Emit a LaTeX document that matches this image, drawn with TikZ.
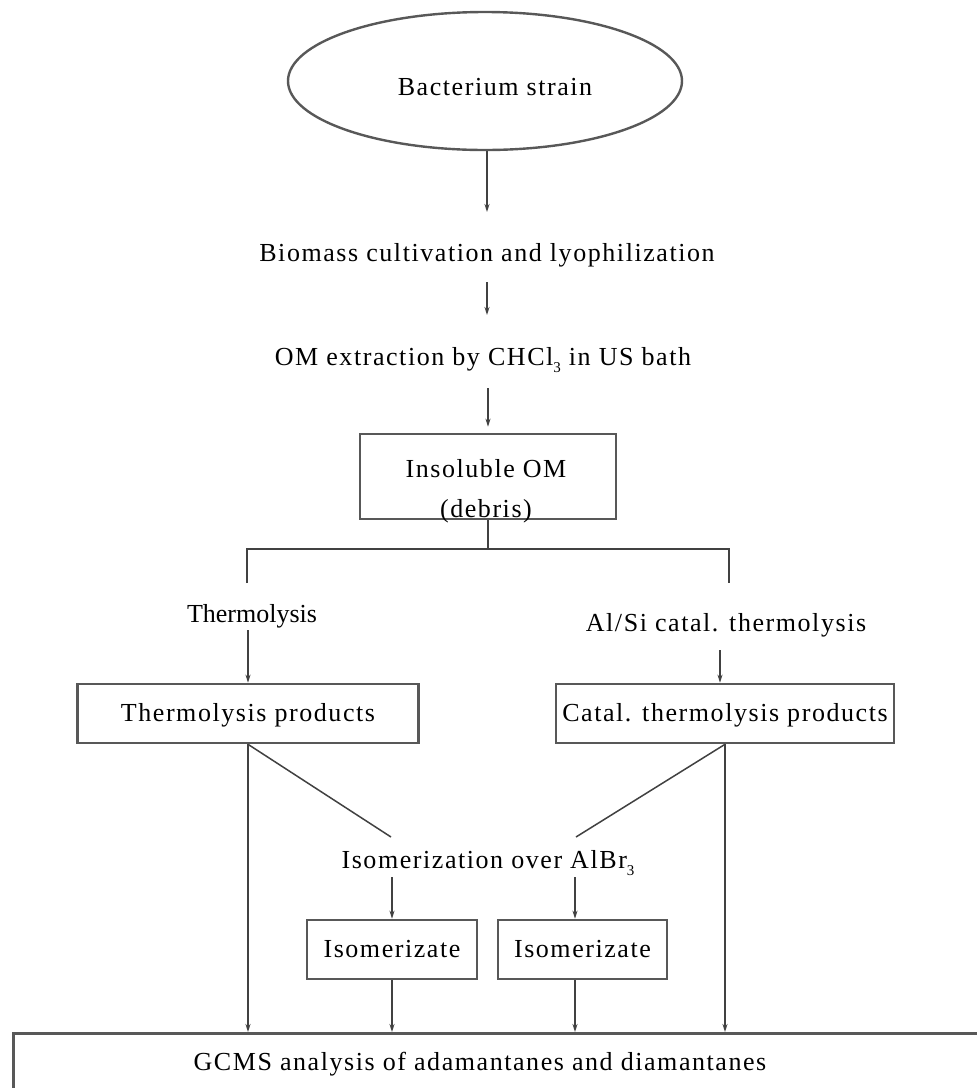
\documentclass[tikz,border=0pt]{standalone}
\usepackage{fontspec}
\setmainfont{Liberation Serif}
\newfontfamily\lsfont[LetterSpace=6]{Liberation Serif}
\usetikzlibrary{shapes.geometric,arrows.meta}
\definecolor{boxgray}{RGB}{88,88,88}
\definecolor{linegray}{RGB}{65,65,65}
\newcommand{\lowsub}[1]{\raisebox{-7pt}{\fontsize{15}{15}\selectfont #1}}
\begin{document}
\begin{tikzpicture}[x=1pt,y=-1pt,
  lbl/.style={anchor=base, inner sep=0pt, outer sep=0pt, text height=18pt, text depth=5pt, font=\lsfont\fontsize{26}{30}\selectfont},
  box/.style={draw=boxgray, line width=2.6pt, rectangle, inner sep=0pt, text height=18pt, text depth=2pt, font=\lsfont\fontsize{26}{30}\selectfont},
  conn/.style={draw=linegray, line width=1.5pt},
  arr/.style={conn, -{Stealth[length=8pt,width=5pt]}}]
\useasboundingbox (0,0) rectangle (977,1088);
\clip (0,0) rectangle (977,1088);
\fill[white] (0,0) rectangle (977,1088);

% nodes
\node[ellipse, draw=boxgray, line width=2.4pt, minimum width=394pt, minimum height=138pt, inner sep=0pt] (bact) at (485,81) {};
\node[lbl] (bactT) at (495,95) {Bacterium strain};
\node[lbl] (bio) at (487,261) {Biomass cultivation and lyophilization};
\node[lbl] (omx) at (483,365) {OM extraction by CHCl\lowsub{3} in US bath};
\node[box, minimum width=256pt, minimum height=85pt] (insol) at (488,476.5) {};
\node[lbl] (insolA) at (486,477) {Insoluble OM};
\node[lbl] (insolB) at (486,517) {(debris)};
\coordinate (split) at (488,549);
\coordinate (tl) at (247,583);
\coordinate (tr) at (729,583);
\node[lbl, font=\fontsize{26}{30}\selectfont] (thlab) at (252,622) {Thermolysis};
\node[lbl] (alsi) at (726,631) {Al/Si catal. thermolysis};
\node[box, minimum width=341pt, minimum height=59pt] (tprod) at (248,713.5) {Thermolysis products};
\node[box, minimum width=338pt, minimum height=59pt] (cprod) at (725,713.5) {Catal. thermolysis products};
\node[lbl] (isom) at (488,868) {Isomerization over AlBr\lowsub{3}};
\coordinate (dl) at (391,837);
\coordinate (dr) at (576,837);
\node[box, minimum width=170pt, minimum height=59pt] (iso1) at (392,949.5) {Isomerizate};
\node[box, minimum width=169pt, minimum height=59pt] (iso2) at (582.5,949.5) {Isomerizate};
\node[box, minimum width=985pt, minimum height=70pt, anchor=north west] (gcmsbox) at (12,1032) {};
\node[lbl] (gcms) at (480,1070) {GCMS analysis of adamantanes and diamantanes};

% connectors
\draw[arr, shorten >=31pt] (bact.south -| bio.north) -- (bio.north);
\draw[arr, shorten <=16pt, shorten >=32pt] (bio.south) -- (bio.south |- omx.north);
\draw[arr, shorten <=18pt, shorten >=6pt] (insol.north |- omx.south) -- (insol.north);
\draw[conn] (insol.south) -- (split);
\draw[conn] (tl) -- (tl |- split) -- (tr |- split) -- (tr);
\draw[arr, shorten <=3pt] (tprod.north |- thlab.south) -- (tprod.north);
\draw[arr, shorten <=14pt] ([xshift=-5pt]cprod.north |- alsi.south) -- ([xshift=-5pt]cprod.north);
\draw[arr] (tprod.south) -- (tprod.south |- gcmsbox.north);
\draw[conn] (tprod.south) -- (dl);
\draw[conn] (cprod.south) -- (dr);
\draw[arr] (cprod.south) -- (cprod.south |- gcmsbox.north);
\draw[arr, shorten <=4pt] (iso1.north |- isom.south) -- (iso1.north);
\draw[arr, shorten <=4pt] ([xshift=-7.5pt]iso2.north |- isom.south) -- ([xshift=-7.5pt]iso2.north);
\draw[arr] (iso1.south) -- (iso1.south |- gcmsbox.north);
\draw[arr] ([xshift=-7.5pt]iso2.south) -- ([xshift=-7.5pt]iso2.south |- gcmsbox.north);
\end{tikzpicture}
\end{document}
